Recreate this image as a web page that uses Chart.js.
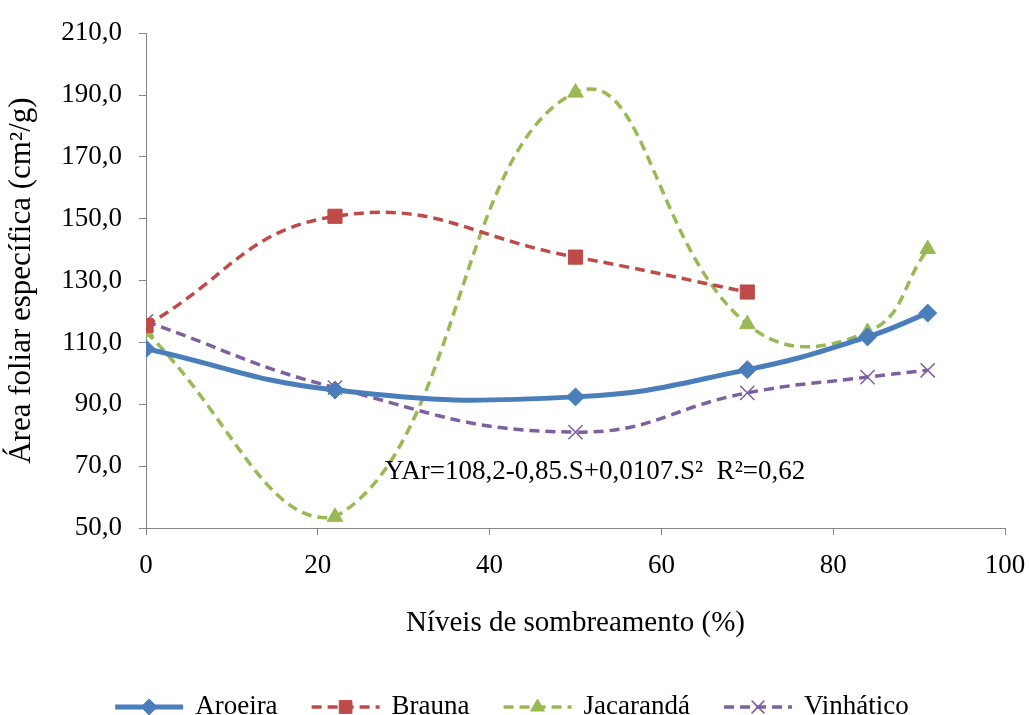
<!DOCTYPE html>
<html>
<head>
<meta charset="utf-8">
<script src="https://cdn.jsdelivr.net/npm/chart.js@4.4.0/dist/chart.umd.min.js"></script>
<style>
  html, body { margin: 0; padding: 0; background: #fff; overflow: hidden; }
  #wrap { width: 1029px; height: 715px; }
</style>
</head>
<body>
<div id="wrap"><canvas id="leafChart" width="1029" height="715"></canvas></div>
<script>
// Shade levels (%) and specific leaf area (cm2/g) per species
const shadeLevels = [0, 22, 50, 70, 84, 91];
const braunaLevels = [0, 22, 50, 70];

const aroeira = [108.0, 94.6, 92.4, 101.2, 111.8, 119.5];
const brauna = [115.5, 150.8, 137.6, 126.3];
const jacaranda = [113.4, 53.6, 190.8, 115.9, 113.4, 140.2];
const vinhatico = [116.8, 95.4, 81.0, 93.7, 98.8, 101.0];

const xTicks = [0, 20, 40, 60, 80, 100];
const yTicks = [50, 70, 90, 110, 130, 150, 170, 190, 210];

const equationText = "YAr=108,2-0,85.S+0,0107.S\u00B2  R\u00B2=0,62";
const equationAt = { x: 27.8, y: 68.2 };

const serif = "'Liberation Serif', 'Times New Roman', serif";
const axisColor = "#868686";

function toPoints(xs, ys) {
    return ys.map((y, i) => ({ x: xs[i], y: y }));
}

// Regression equation written inside the plot
const equationLabel = {
    id: "equationLabel",
    afterDatasetsDraw(chart) {
        const ctx = chart.ctx;
        ctx.save();
        ctx.font = "27px " + serif;
        ctx.fillStyle = "#000";
        ctx.textAlign = "left";
        ctx.textBaseline = "middle";
        ctx.fillText(equationText,
            chart.scales.x.getPixelForValue(equationAt.x),
            chart.scales.y.getPixelForValue(equationAt.y));
        ctx.restore();
    },
};

// Excel-style legend: line sample with marker, then the name
const bottomLegend = {
    id: "bottomLegend",
    afterDraw(chart) {
        const ctx = chart.ctx;
        const sampleW = 68, textGap = 12, itemGap = 34;
        const y = 707;
        ctx.save();
        ctx.font = "27px " + serif;
        const sets = chart.data.datasets;
        const widths = sets.map(ds => sampleW + textGap + ctx.measureText(ds.label).width);
        const total = widths.reduce((a, b) => a + b, 0) + itemGap * (sets.length - 1);
        let x = 512 - total / 2;
        sets.forEach((ds, i) => {
            ctx.save();
            ctx.strokeStyle = ds.borderColor;
            ctx.lineWidth = ds.borderWidth;
            ctx.setLineDash(ds.borderDash || []);
            ctx.beginPath();
            ctx.moveTo(x, y);
            ctx.lineTo(x + sampleW, y);
            ctx.stroke();
            ctx.setLineDash([]);
            ctx.fillStyle = ds.pointBackgroundColor;
            ctx.strokeStyle = ds.pointBorderColor;
            ctx.lineWidth = ds.pointBorderWidth;
            Chart.helpers.drawPoint(ctx, {
                pointStyle: ds.pointStyle,
                radius: ds.pointRadius - 1,
                borderWidth: ds.pointBorderWidth,
                rotation: 0,
            }, x + sampleW / 2, y);
            ctx.restore();
            ctx.fillStyle = "#000";
            ctx.textAlign = "left";
            ctx.textBaseline = "middle";
            ctx.fillText(ds.label, x + sampleW + textGap, y);
            x += widths[i] + itemGap;
        });
        ctx.restore();
    },
};

function makeSet(label, xs, ys, color, opts) {
    return Object.assign({
        label: label,
        data: toPoints(xs, ys),
        borderColor: color,
        backgroundColor: color,
        pointBackgroundColor: color,
        pointBorderColor: color,
        borderWidth: 3.5,
        borderDash: [10, 6],
        pointBorderWidth: 1,
        tension: 0.45,
        fill: false,
    }, opts);
}

const ctx = document.getElementById("leafChart").getContext("2d");
new Chart(ctx, {
    type: "line",
    data: {
        datasets: [
            makeSet("Aroeira", shadeLevels, aroeira, "#4A7EBB", {
                borderWidth: 5, borderDash: [], pointStyle: "rectRot", pointRadius: 9,
            }),
            makeSet("Brauna", braunaLevels, brauna, "#BE4B48", {
                pointStyle: "rect", pointRadius: 10,
            }),
            makeSet("Jacarandá", shadeLevels, jacaranda, "#98B954", {
                pointStyle: "triangle", pointRadius: 9,
            }),
            makeSet("Vinhático", shadeLevels, vinhatico, "#7D60A0", {
                pointStyle: "crossRot", pointRadius: 10, pointBorderWidth: 1.5,
            }),
        ],
    },
    options: {
        responsive: false,
        animation: false,
        layout: { padding: { left: 0, right: 24, top: 27, bottom: 67 } },
        plugins: {
            legend: { display: false },
            tooltip: { enabled: false },
        },
        scales: {
            x: {
                type: "linear",
                min: 0,
                max: 100,
                afterFit: scale => {
                    scale.height = 120;
                    scale.paddingLeft = 0;
                    scale.paddingRight = 0;
                },
                afterBuildTicks: scale => { scale.ticks = xTicks.map(v => ({ value: v })); },
                grid: { drawOnChartArea: false, drawTicks: true, tickLength: 7, color: axisColor },
                border: { display: true, color: axisColor, width: 1 },
                ticks: {
                    padding: 15,
                    color: "#000",
                    font: { size: 27, family: serif },
                },
                title: {
                    display: true,
                    text: "Níveis de sombreamento (%)",
                    color: "#000",
                    font: { size: 29, family: serif },
                    padding: { top: 0, bottom: 7 },
                },
            },
            y: {
                type: "linear",
                min: 50,
                max: 210,
                afterFit: scale => { scale.width = 146; },
                afterBuildTicks: scale => { scale.ticks = yTicks.map(v => ({ value: v })); },
                grid: { drawOnChartArea: false, drawTicks: true, tickLength: 7, color: axisColor },
                border: { display: true, color: axisColor, width: 1 },
                ticks: {
                    padding: 17,
                    color: "#000",
                    font: { size: 27, family: serif },
                    callback: value => value.toFixed(1).replace(".", ","),
                },
                title: {
                    display: true,
                    text: "Área foliar específica (cm\u00B2/g)",
                    color: "#000",
                    font: { size: 31, family: serif },
                    padding: { top: 3, bottom: 0 },
                },
            },
        },
    },
    plugins: [equationLabel, bottomLegend],
});
</script>
</body>
</html>
